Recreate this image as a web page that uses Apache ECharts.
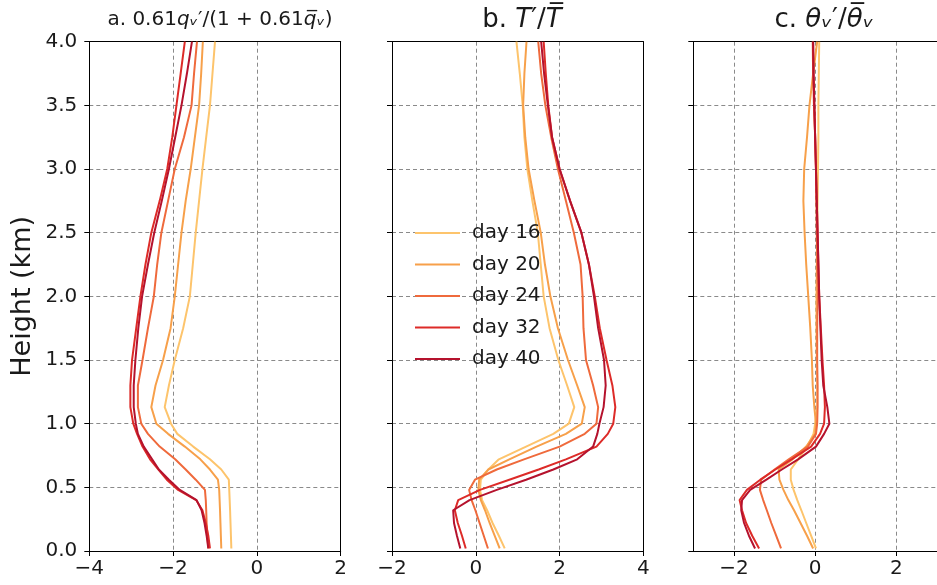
<!DOCTYPE html>
<html>
<head>
<meta charset="utf-8">
<script src="https://cdn.jsdelivr.net/npm/echarts@6/dist/echarts.min.js"></script>
<style>
html,body{margin:0;padding:0;background:#fff;}
#c{width:937px;height:585px;}
</style>
</head>
<body>
<div id="c"></div>
<script>
// Heights (km) shared by all profiles
const heights = [0.02, 0.12, 0.22, 0.32, 0.4, 0.48, 0.56, 0.64, 0.72, 0.82, 0.92, 1.0, 1.13, 1.3, 1.5, 1.75, 2.0, 2.25, 2.5, 2.75, 3.0, 3.25, 3.5, 3.75, 4.0];
const days = ['day 16', 'day 20', 'day 24', 'day 32', 'day 40'];
const colors = ['#fdc46c', '#f7a04a', '#ef6a3c', '#dd2b28', '#b5122d'];

// Panel a: 0.61 qv' / (1 + 0.61 qv_bar)
const a16 = [-0.61, -0.62, -0.63, -0.64, -0.65, -0.66, -0.67, -0.85, -1.12, -1.52, -1.9, -2.05, -2.2, -2.1, -1.96, -1.76, -1.6, -1.53, -1.46, -1.38, -1.3, -1.21, -1.12, -1.06, -1.0];
const a20 = [-0.85, -0.86, -0.87, -0.88, -0.89, -0.9, -0.93, -1.12, -1.35, -1.72, -2.12, -2.4, -2.52, -2.42, -2.24, -2.06, -1.96, -1.88, -1.8, -1.7, -1.58, -1.48, -1.38, -1.33, -1.29];
const a24 = [-1.16, -1.18, -1.2, -1.21, -1.22, -1.24, -1.46, -1.7, -1.95, -2.32, -2.6, -2.76, -2.84, -2.84, -2.73, -2.6, -2.46, -2.38, -2.28, -2.12, -1.96, -1.74, -1.56, -1.5, -1.43];
const a32 = [-1.12, -1.16, -1.22, -1.3, -1.45, -1.88, -2.15, -2.35, -2.55, -2.73, -2.86, -2.95, -3.02, -3.02, -2.98, -2.88, -2.78, -2.66, -2.52, -2.32, -2.14, -2.02, -1.92, -1.82, -1.72];
const a40 = [-1.16, -1.2, -1.25, -1.32, -1.44, -1.84, -2.1, -2.34, -2.5, -2.7, -2.84, -2.89, -2.94, -2.94, -2.9, -2.83, -2.74, -2.6, -2.45, -2.27, -2.1, -1.95, -1.8, -1.67, -1.55];

// Panel b: T' / T_bar
const b16 = [0.69, 0.55, 0.4, 0.27, 0.15, 0.1, 0.12, 0.3, 0.55, 1.2, 1.85, 2.22, 2.35, 2.18, 1.97, 1.76, 1.62, 1.55, 1.48, 1.35, 1.23, 1.16, 1.12, 1.05, 0.97];
const b20 = [0.57, 0.45, 0.33, 0.22, 0.12, 0.06, 0.08, 0.3, 0.8, 1.45, 2.15, 2.53, 2.6, 2.42, 2.2, 1.96, 1.78, 1.65, 1.55, 1.4, 1.26, 1.18, 1.13, 1.16, 1.21];
const b24 = [0.29, 0.19, 0.09, -0.01, -0.1, -0.16, -0.02, 0.5, 1.15, 2.0, 2.6, 2.88, 2.92, 2.8, 2.63, 2.57, 2.55, 2.5, 2.34, 2.15, 1.96, 1.8, 1.66, 1.56, 1.49];
const b32 = [-0.24, -0.33, -0.43, -0.5, -0.42, 0.1, 0.8, 1.5, 2.15, 2.88, 3.15, 3.28, 3.33, 3.26, 3.12, 2.96, 2.84, 2.7, 2.52, 2.25, 2.0, 1.82, 1.73, 1.67, 1.62];
const b40 = [-0.37, -0.45, -0.52, -0.54, -0.15, 0.5, 1.2, 1.85, 2.42, 2.8, 2.9, 2.95, 3.05, 3.1, 3.06, 2.92, 2.82, 2.7, 2.52, 2.25, 2.0, 1.82, 1.72, 1.63, 1.56];

// Panel c: thetav' / thetav_bar
const c16 = [0.02, -0.1, -0.22, -0.34, -0.44, -0.53, -0.6, -0.6, -0.42, -0.2, -0.04, 0.0, 0.05, 0.05, 0.04, 0.03, 0.03, 0.04, 0.05, 0.06, 0.07, 0.08, 0.08, 0.09, 0.1];
const c20 = [-0.05, -0.2, -0.36, -0.52, -0.66, -0.78, -0.88, -0.9, -0.56, -0.22, 0.0, 0.02, -0.02, -0.06, -0.08, -0.12, -0.17, -0.22, -0.26, -0.29, -0.27, -0.2, -0.14, -0.05, 0.05];
const c24 = [-0.84, -0.96, -1.08, -1.19, -1.28, -1.36, -1.33, -1.0, -0.65, -0.18, 0.02, 0.05, 0.06, 0.06, 0.05, 0.05, 0.06, 0.05, 0.04, 0.03, 0.02, 0.0, -0.03, -0.05, -0.06];
const c32 = [-1.38, -1.55, -1.7, -1.8, -1.86, -1.68, -1.35, -0.98, -0.58, -0.1, 0.12, 0.22, 0.24, 0.22, 0.18, 0.14, 0.1, 0.08, 0.06, 0.04, 0.02, 0.0, -0.02, -0.04, -0.05];
const c40 = [-1.48, -1.63, -1.75, -1.82, -1.8, -1.6, -1.2, -0.82, -0.42, 0.02, 0.22, 0.35, 0.3, 0.2, 0.16, 0.13, 0.1, 0.08, 0.06, 0.04, 0.02, 0.0, -0.02, -0.04, -0.05];

const xTicksA = [-4, -2, 0, 2];
const xTicksB = [-2, 0, 2, 4];
const xTicksC = [-2, 0, 2];
const yTicks = [0, 0.5, 1, 1.5, 2, 2.5, 3, 3.5, 4];

const FONT = 'DejaVu Sans';
const panels = [
  { rows: [a16, a20, a24, a32, a40], min: -4, max: 2, ticks: xTicksA, left: 89.3 },
  { rows: [b16, b20, b24, b32, b40], min: -2, max: 4, ticks: xTicksB, left: 392 },
  { rows: [c16, c20, c24, c32, c40], min: -3, max: 3, ticks: xTicksC, left: 693.3 }
];
const gridTop = 41.7, gridH = 509.3, gridW = 251.4;
const minus = v => (v < 0 ? '\u2212' + Math.abs(v) : String(v));
const dash = { color: '#8a8a8a', width: 1, type: [4, 3] };

const grid = [], xAxis = [], yAxis = [], series = [];
panels.forEach((p, k) => {
  grid.push({ left: p.left, top: gridTop, width: gridW, height: gridH, containLabel: false });
  xAxis.push({
    type: 'value', gridIndex: k, min: p.min, max: p.max, position: 'bottom',
    axisLine: { show: true, onZero: false, lineStyle: { color: '#000', width: 1 } },
    axisTick: { show: true, inside: false, length: 5, customValues: p.ticks, lineStyle: { color: '#000' } },
    axisLabel: { show: true, customValues: p.ticks, formatter: minus, fontFamily: FONT, fontSize: 20, color: '#1a1a1a', margin: 8 },
    splitLine: { show: true, lineStyle: dash }
  });
  xAxis.push({
    type: 'value', gridIndex: k, min: p.min, max: p.max, position: 'top',
    axisLine: { show: true, onZero: false, lineStyle: { color: '#000', width: 1 } },
    axisTick: { show: false }, axisLabel: { show: false }, splitLine: { show: false }
  });
  yAxis.push({
    type: 'value', gridIndex: k, min: 0, max: 4, interval: 0.5, position: 'left',
    name: k === 0 ? 'Height (km)' : '', nameLocation: 'middle', nameRotate: 90, nameGap: 53,
    nameTextStyle: { fontFamily: FONT, fontSize: 27, color: '#1a1a1a' },
    axisLine: { show: true, onZero: false, lineStyle: { color: '#000', width: 1 } },
    axisTick: { show: true, inside: false, length: 5, customValues: yTicks, lineStyle: { color: '#000' } },
    axisLabel: { show: k === 0, customValues: yTicks, formatter: v => v.toFixed(1), fontFamily: FONT, fontSize: 20, color: '#1a1a1a', margin: 12 },
    splitLine: { show: true, lineStyle: dash }
  });
  yAxis.push({
    type: 'value', gridIndex: k, min: 0, max: 4, position: 'right',
    axisLine: { show: true, onZero: false, lineStyle: { color: '#000', width: 1 } },
    axisTick: { show: false }, axisLabel: { show: false }, splitLine: { show: false }
  });
  p.rows.forEach((row, j) => {
    series.push({
      type: 'line', name: days[j], xAxisIndex: 2 * k, yAxisIndex: 2 * k,
      data: heights.map((h, i) => [row[i], h]),
      showSymbol: false, symbol: 'none', silent: true, animation: false,
      lineStyle: { color: colors[j], width: 2 }, itemStyle: { color: colors[j] }, z: 3 + j
    });
  });
});

const rich = (size) => ({
  n: { fontFamily: FONT, fontSize: size, fontWeight: 'normal', color: '#1a1a1a' },
  i: { fontFamily: FONT, fontSize: size, fontWeight: 'normal', fontStyle: 'italic', color: '#1a1a1a' }
});

const option = {
  animation: false,
  backgroundColor: '#fff',
  title: [
    { left: 215, top: 5, textAlign: 'center',
      text: '{n|a. 0.61}{i|q\u1D65}{n|\u2032/(1 + 0.61}{i|q\u0305\u1D65}{n|)}',
      textStyle: { fontWeight: 'normal', fontFamily: FONT, fontSize: 20, rich: rich(20) } },
    { left: 517, top: 2, textAlign: 'center',
      text: '{n|b. }{i|T}{n|\u2032/}{i|T\u0305}',
      textStyle: { fontWeight: 'normal', fontFamily: FONT, fontSize: 26, rich: rich(26) } },
    { left: 819, top: 2, textAlign: 'center',
      text: '{n|c. }{i|\u03B8\u1D65}{n|\u2032/}{i|\u03B8\u0305\u1D65}',
      textStyle: { fontWeight: 'normal', fontFamily: FONT, fontSize: 26, rich: rich(26) } }
  ],
  legend: {
    orient: 'vertical', left: 410, top: 217, itemWidth: 45, itemHeight: 14, itemGap: 9.5,
    data: days, icon: 'path://M0,6 L45,6 L45,8 L0,8 Z',
    textStyle: { fontFamily: FONT, fontSize: 20, color: '#1a1a1a', lineHeight: 22, padding: [0, 0, 0, 7] },
    selectedMode: false
  },
  grid, xAxis, yAxis, series
};
const chart = echarts.init(document.getElementById('c'), null, { renderer: 'canvas' });
chart.setOption(option);
</script>
</body>
</html>
